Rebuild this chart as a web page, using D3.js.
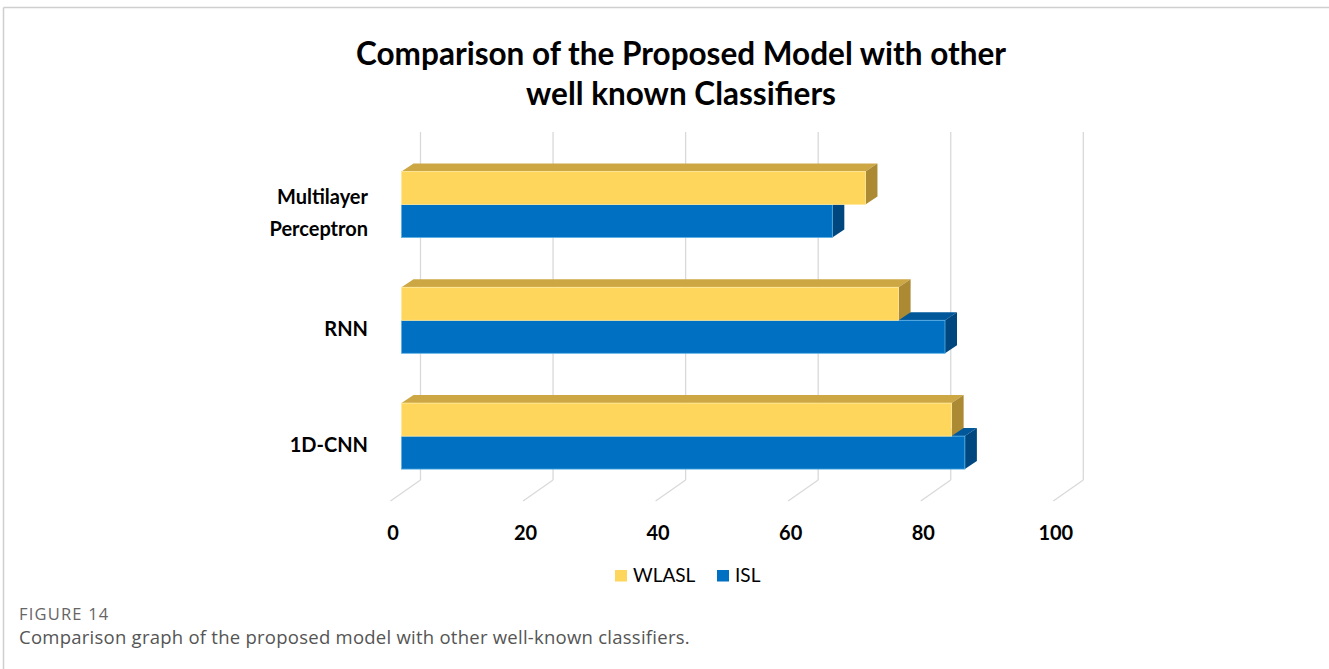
<!DOCTYPE html>
<html>
<head>
<meta charset="utf-8">
<script src="https://cdn.jsdelivr.net/npm/d3@7"></script>
<style>
  html, body { margin: 0; padding: 0; background: #fff; }
  svg { display: block; }
</style>
</head>
<body>
<svg id="chart" width="1329" height="669"></svg>
<script>
// ---- data ----
const categories = ["Multilayer Perceptron", "RNN", "1D-CNN"];
const categoryLines = [["Multilayer", "Perceptron"], ["RNN"], ["1D-CNN"]];
const seriesNames = ["WLASL", "ISL"];
const wlaslValues = [70, 75, 83];
const islValues = [65, 82, 85];
const tickValues = [0, 20, 40, 60, 80, 100];
const titleLines = ["Comparison of the Proposed Model with other", "well known Classifiers"];
const figureLabel = "FIGURE 14";
const captionText = "Comparison graph of the proposed model with other well-known classifiers.";

// ---- styles ----
const colors = {
  WLASL: { front: "#FED65C", top: "#CDA744", side: "#AC8A34", edge: "#FFE89A" },
  ISL:   { front: "#0070C2", top: "#00589B", side: "#00467F", edge: "#5AB0E6" }
};
const chartFont = "Lato, 'Open Sans', sans-serif";

const svg = d3.select("#chart");

// frame
svg.append("line").attr("x1", 3.5).attr("x2", 1329).attr("y1", 7.5).attr("y2", 7.5)
  .attr("stroke", "#cfcfcf").attr("stroke-width", 1.5);
svg.append("line").attr("x1", 3.5).attr("x2", 3.5).attr("y1", 7.5).attr("y2", 669)
  .attr("stroke", "#cfcfcf").attr("stroke-width", 1.5);

// ---- scales ----
const wallTop = 132, wallBottom = 480;
const floorDX = -30, floorDY = 21;
const xBack = d3.scaleLinear().domain([0, 100]).range([420.5, 1083.3]);
const barShift = -19;
const xBar = d3.scaleLinear().domain([0, 100]).range([xBack(0) + barShift, xBack(100) + barShift]);
const yCat = d3.scaleBand().domain(categories).range([121.7, 518.9]).paddingInner(0.43).paddingOuter(0.43);
const ySer = d3.scaleBand().domain(seriesNames).range([0, yCat.bandwidth()]);
const depthDX = 12, depthDY = 8;

// ---- back wall gridlines & floor lines ----
const grid = svg.append("g");
grid.selectAll("line.v").data(tickValues).join("line")
  .attr("class", "v")
  .attr("x1", d => xBack(d)).attr("x2", d => xBack(d))
  .attr("y1", wallTop).attr("y2", wallBottom)
  .attr("stroke", "#d9d9d9").attr("stroke-width", 1.3);
grid.selectAll("line.f").data(tickValues).join("line")
  .attr("class", "f")
  .attr("x1", d => xBack(d)).attr("x2", d => xBack(d) + floorDX)
  .attr("y1", wallBottom).attr("y2", wallBottom + floorDY)
  .attr("stroke", "#d9d9d9").attr("stroke-width", 1.3);

// tick labels
svg.append("g").selectAll("text").data(tickValues).join("text")
  .attr("x", d => xBack(d) + floorDX + 2.5)
  .attr("y", 540)
  .attr("text-anchor", "middle")
  .attr("font-family", chartFont).attr("font-weight", "bold")
  .attr("font-size", 20).attr("fill", "#000")
  .text(d => d);

// ---- bars ----
const rows = [];
categories.forEach((c, i) => {
  // draw lower series first so the upper one overlaps its top face
  rows.push({ cat: c, series: "ISL", value: islValues[i] });
  rows.push({ cat: c, series: "WLASL", value: wlaslValues[i] });
});

const bars = svg.append("g");
rows.forEach(r => {
  const y = yCat(r.cat) + ySer(r.series);
  const h = ySer.bandwidth();
  const x0 = xBar(0), x1 = xBar(r.value);
  const col = colors[r.series];
  const g = bars.append("g");
  // top face
  g.append("polygon")
    .attr("points", [[x0, y], [x1, y], [x1 + depthDX, y - depthDY], [x0 + depthDX, y - depthDY]].map(p => p.join(",")).join(" "))
    .attr("fill", col.top);
  // side face
  g.append("polygon")
    .attr("points", [[x1, y], [x1 + depthDX, y - depthDY], [x1 + depthDX, y + h - depthDY], [x1, y + h]].map(p => p.join(",")).join(" "))
    .attr("fill", col.side);
  // front face
  g.append("rect")
    .attr("x", x0).attr("y", y).attr("width", x1 - x0).attr("height", h)
    .attr("fill", col.front)
    .attr("stroke", col.edge).attr("stroke-width", 0.8);
});

// category labels
const catLabels = svg.append("g");
categories.forEach((c, i) => {
  const lines = categoryLines[i];
  const center = yCat(c) + yCat.bandwidth() / 2;
  const lineH = 32;
  const base = center + 15.5 - (lines.length - 1) * lineH / 2;
  const t = catLabels.append("text")
    .attr("text-anchor", "end")
    .attr("font-family", chartFont).attr("font-weight", "bold")
    .attr("font-size", 20).attr("fill", "#000");
  lines.forEach((ln, j) => {
    t.append("tspan").attr("x", 368).attr("y", base + j * lineH).text(ln);
  });
});

// title
svg.append("g").selectAll("text").data(titleLines).join("text")
  .attr("x", 681).attr("y", (d, i) => 64.5 + i * 40)
  .attr("text-anchor", "middle")
  .attr("font-family", chartFont).attr("font-weight", "bold")
  .attr("font-size", 31.5).attr("fill", "#000")
  .text(d => d);

// legend
const legendItems = [
  { name: "WLASL", x: 615 },
  { name: "ISL", x: 717 }
];
const legend = svg.append("g");
legendItems.forEach(it => {
  legend.append("rect").attr("x", it.x).attr("y", 570).attr("width", 12).attr("height", 11.5)
    .attr("fill", colors[it.name].front);
  legend.append("text").attr("x", it.x + 18).attr("y", 582)
    .attr("font-family", chartFont).attr("font-size", 19).attr("fill", "#000")
    .text(it.name);
});

// caption
svg.append("text").attr("x", 19).attr("y", 619.5)
  .attr("font-family", "'Open Sans', sans-serif").attr("font-size", 16.5)
  .attr("letter-spacing", 1.2).attr("fill", "#666")
  .text(figureLabel);
svg.append("text").attr("x", 19).attr("y", 643.5)
  .attr("font-family", "'Open Sans', sans-serif").attr("font-size", 18.5)
  .attr("letter-spacing", 0.25).attr("fill", "#555")
  .text(captionText);
</script>
</body>
</html>
